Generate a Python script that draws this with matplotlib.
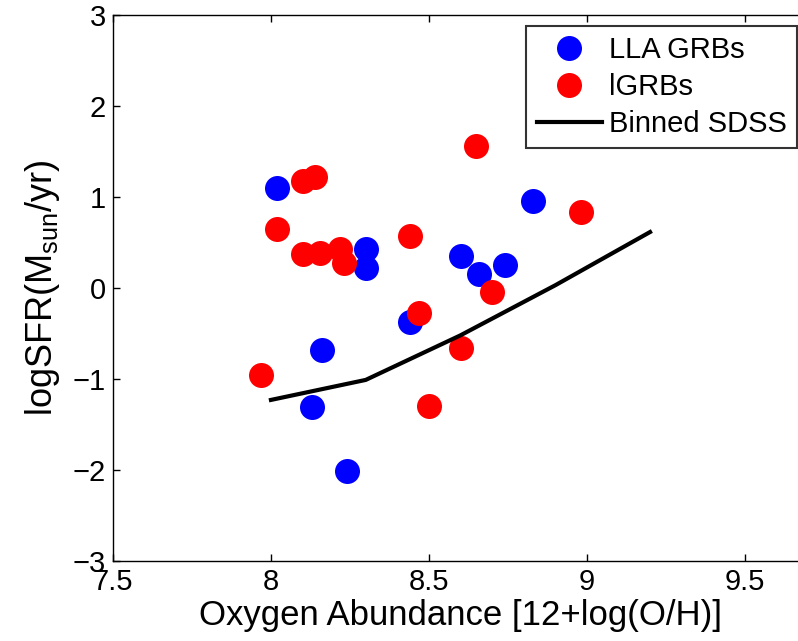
import matplotlib
matplotlib.use("Agg")
import matplotlib.pyplot as plt

plt.rcParams['font.family'] = ['Liberation Sans', 'DejaVu Sans']
plt.rcParams['mathtext.fontset'] = 'custom'
plt.rcParams['mathtext.rm'] = 'Liberation Sans'
plt.rcParams['mathtext.it'] = 'Liberation Sans'

lla_x = [8.02, 8.13, 8.16, 8.24, 8.30, 8.30, 8.44, 8.60, 8.66, 8.74, 8.83]
lla_y = [1.10, -1.31, -0.68, -2.01, 0.43, 0.22, -0.37, 0.35, 0.15, 0.25, 0.96]

lgrb_x = [7.97, 8.02, 8.10, 8.14, 8.10, 8.155, 8.22, 8.23, 8.44, 8.47, 8.50, 8.60, 8.65, 8.70, 8.98]
lgrb_y = [-0.96, 0.65, 1.18, 1.22, 0.37, 0.38, 0.43, 0.27, 0.57, -0.27, -1.30, -0.66, 1.56, -0.04, 0.83]

sdss_x = [8.0, 8.3, 8.6, 8.9, 9.2]
sdss_y = [-1.23, -1.01, -0.52, 0.03, 0.615]

xticks = [7.5, 8, 8.5, 9, 9.5]
xtick_labels = ['7.5', '8', '8.5', '9', '9.5']
yticks = [-3, -2, -1, 0, 1, 2, 3]
ytick_labels = ['\u22123', '\u22122', '\u22121', '0', '1', '2', '3']

fig = plt.figure(figsize=(7.98, 6.41), dpi=100)
ax = fig.add_axes([113/798, 80/641, 695/798, 546/641])

ax.plot(lla_x, lla_y, 'o', color='#0000ff', markersize=18, markeredgewidth=0, label='LLA GRBs')
ax.plot(lgrb_x, lgrb_y, 'o', color='#ff0000', markersize=18, markeredgewidth=0, label='lGRBs')
ax.plot(sdss_x, sdss_y, '-', color='black', linewidth=3, label='Binned SDSS')

ax.set_xlim(7.5, 9.7)
ax.set_ylim(-3, 3)
ax.set_xticks(xticks)
ax.set_xticklabels(xtick_labels)
ax.set_yticks(yticks)
ax.set_yticklabels(ytick_labels)
ax.tick_params(direction='in', length=5, width=1, labelsize=21, top=True, right=True, pad=5)
for s in ax.spines.values():
    s.set_linewidth(1)

ax.set_xlabel('Oxygen Abundance [12+log(O/H)]', fontsize=25, labelpad=2)
ax.set_ylabel('logSFR(M$_{\\mathrm{sun}}$/yr)', fontsize=26, labelpad=8)

leg = ax.legend(loc='upper right', fontsize=21, frameon=True, fancybox=False,
                edgecolor='black', borderaxespad=0.38, handlelength=2.23,
                handletextpad=0.25, labelspacing=0.3, borderpad=0.35)
leg.get_frame().set_linewidth(1.5)

fig.savefig('out.png', dpi=100)
